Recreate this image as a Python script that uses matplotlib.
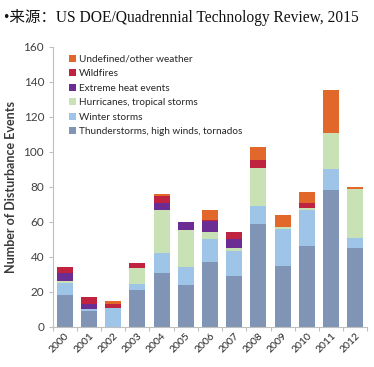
import numpy as np
import matplotlib
matplotlib.use('Agg')
import matplotlib.pyplot as plt
from matplotlib.patches import Patch

years = ['2000', '2001', '2002', '2003', '2004', '2005', '2006',
         '2007', '2008', '2009', '2010', '2011', '2012']

# 由下往上堆叠
thunderstorms = [18, 9, 0, 21, 31, 24, 37, 29, 59, 35, 46, 78, 45]
winter_storms = [7, 1, 11, 3.5, 11, 10, 13, 14.5, 10, 21, 21, 12, 6]
hurricanes = [1, 0, 0, 9, 25, 21.5, 4, 1.5, 21.5, 1, 1, 21, 28]
extreme_heat = [5, 3, 0, 0, 4, 4.5, 6.5, 5, 0, 0, 0, 0, 0]
wildfires = [3, 4, 2, 3, 4, 0, 0.5, 4, 5, 0, 3, 0, 0]
undefined = [0, 0, 2, 0, 1, 0, 6, 0, 7, 7, 6, 24, 1]

series = [
    ('Thunderstorms, high winds, tornados', thunderstorms, '#8095b6'),
    ('Winter storms', winter_storms, '#9ec4e8'),
    ('Hurricanes, tropical storms', hurricanes, '#c8e2b6'),
    ('Extreme heat events', extreme_heat, '#6b2c93'),
    ('Wildfires', wildfires, '#bf2340'),
    ('Undefined/other weather', undefined, '#e2672b'),
]

fig = plt.figure(figsize=(3.74, 3.67), dpi=100)
ax = fig.add_axes([0.1404, 0.109, 0.8422, 0.7638])

x = np.arange(len(years))
bottom = np.zeros(len(years))
for name, vals, color in series:
    vals = np.array(vals, dtype=float)
    ax.bar(x, vals, width=0.66, bottom=bottom, color=color, label=name)
    bottom += vals

ax.set_xlim(-0.5, len(years) - 0.5)
ax.set_ylim(0, 160)
ax.set_yticks(range(0, 161, 20))
ax.tick_params(axis='y', labelsize=8.5, labelcolor='#404040', color='#bfbfbf',
               length=3, width=0.8, pad=3)
for lab in ax.get_yticklabels():
    lab.set_family('Lato')

ax.set_xticks(x)
ax.set_xticklabels(years, rotation=45, ha='right', rotation_mode='anchor',
                   fontsize=7.5, color='#262626', family='Lato')
ax.tick_params(axis='x', length=0, pad=3)
ax.set_xticks(np.arange(-0.5, len(years), 1), minor=True)
ax.tick_params(axis='x', which='minor', length=3, color='#bfbfbf', width=0.8)

for s in ['top', 'right']:
    ax.spines[s].set_visible(False)
for s in ['left', 'bottom']:
    ax.spines[s].set_color('#bfbfbf')
    ax.spines[s].set_linewidth(0.8)

ax.set_ylabel('Number of Disturbance Events', fontsize=9, fontweight='bold',
              color='#3a3a3a', family='Lato', labelpad=5)

handles = [Patch(facecolor=c, label=n) for n, _, c in series][::-1]
leg = ax.legend(handles=handles, loc='upper left', bbox_to_anchor=(0.04, 0.985),
                frameon=False, prop={'family': 'Lato', 'size': 7.2},
                handlelength=0.7, handleheight=0.7, handletextpad=0.3,
                labelspacing=0.55, borderaxespad=0)
for t in leg.get_texts():
    t.set_color('#262626')

fig.text(0.012, 0.953, '•来源：US DOE/Quadrennial Technology Review, 2015',
         fontsize=11.2, family=['Liberation Serif', 'Noto Sans CJK SC'],
         color='#111111', va='center', ha='left')

fig.savefig('out.png', dpi=100)
